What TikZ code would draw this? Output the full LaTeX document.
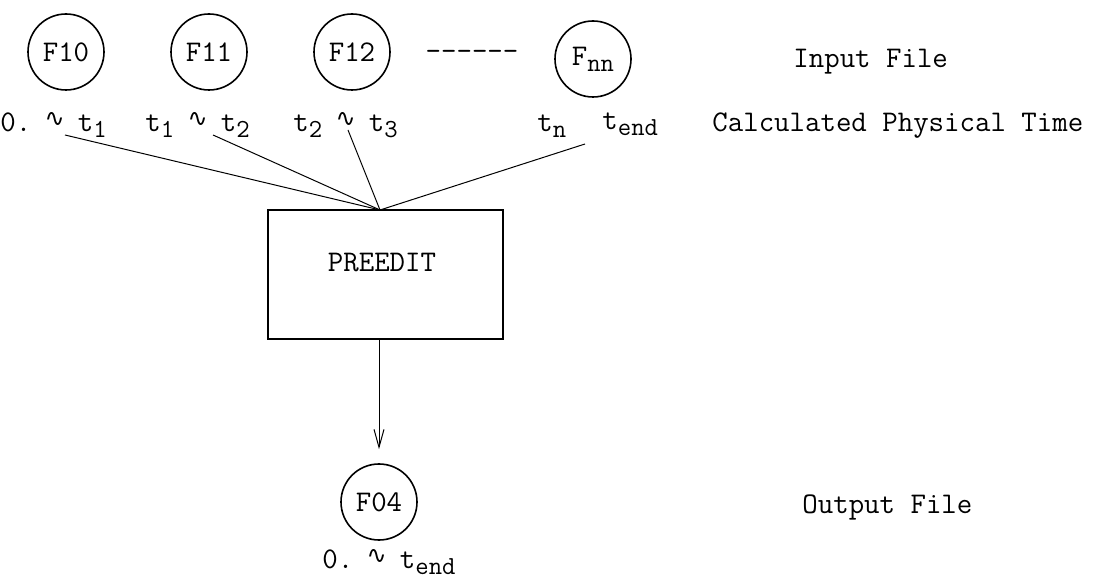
\documentclass[tikz,border=0pt]{standalone}
\usepackage{amsmath}
\usepackage{fontspec}
\usetikzlibrary{arrows.meta}
\newfontfamily\wavefont{DejaVu Sans}
\newcommand{\wv}{\makebox[0.525em]{\raisebox{2.5pt}{\wavefont\fontsize{12}{12}\selectfont ∿}}}
\newcommand{\lowsub}[1]{\raisebox{-3pt}{\fontsize{13}{13}\selectfont #1}}
\newcommand{\ts}[1]{t\lowsub{#1}}

\begin{document}
\begin{tikzpicture}[x=0.5pt,y=-0.5pt,
        every node/.style={font=\fontsize{15}{18}\selectfont\ttfamily},
        file/.style={circle,draw,line width=0.8pt,minimum size=38pt,inner sep=0pt},
        box/.style={draw,line width=1pt,minimum width=117.5pt,minimum height=64.5pt,inner sep=0pt},
        txt/.style={anchor=base west,inner sep=0pt},
        wire/.style={line width=0.5pt}]
     \useasboundingbox (0,0) rectangle (1095,581);

            % input files
            \node[file] (f10) at (66,52) {F10};
            \node[file] (f11) at (209,52) {F11};
            \node[file] (f12) at (352,52) {F12};
            \node (dots) at (472,55) {------};
            \node[file] (fnn) at (593,59) {F\lowsub{nn}};
            \node[txt] (inp) at (793,68) {Input File};

            % time ranges
            \node[txt] (l10) at (0,132) {0.~\wv~\ts{1}};
            \node[txt] (l11) at (145,132) {\ts{1}~\wv~\ts{2}};
            \node[txt] (l12) at (293,132) {\ts{2}~\wv~\ts{3}};
            \node[txt] (ltn) at (537,132) {\ts{n}};
            \node[txt] (lend) at (602,130) {\ts{end}};
            \node[txt] (calc) at (712,132) {Calculated Physical Time};

            % program
            \node[box] (pre) at (385.5,274.5) {};
            \node (pretxt) at (382,263) {PREEDIT};

            \coordinate (hub) at (380,210);
            \coordinate (s10) at (65,135);
            \coordinate (s11) at (213,135);
            \coordinate (s12) at (348,130);
            \coordinate (snn) at (585,144);

            \draw[wire] (s10) -- (hub);
            \draw[wire] (s11) -- (hub);
            \draw[wire] (s12) -- (hub);
            \draw[wire] (snn) -- (hub);

            % output file
            \node[file] (f04) at (379,502) {F04};
            \node[txt] (l04) at (322,568) {0.~\wv~\ts{end}};
            \node[txt] (outp) at (802,513) {Output File};

            \draw[wire,-{Straight Barb[length=9pt,width=5pt]}] (pre.south -| f04) -- ([yshift=7pt]f04.north);
     \end{tikzpicture}
\end{document}
